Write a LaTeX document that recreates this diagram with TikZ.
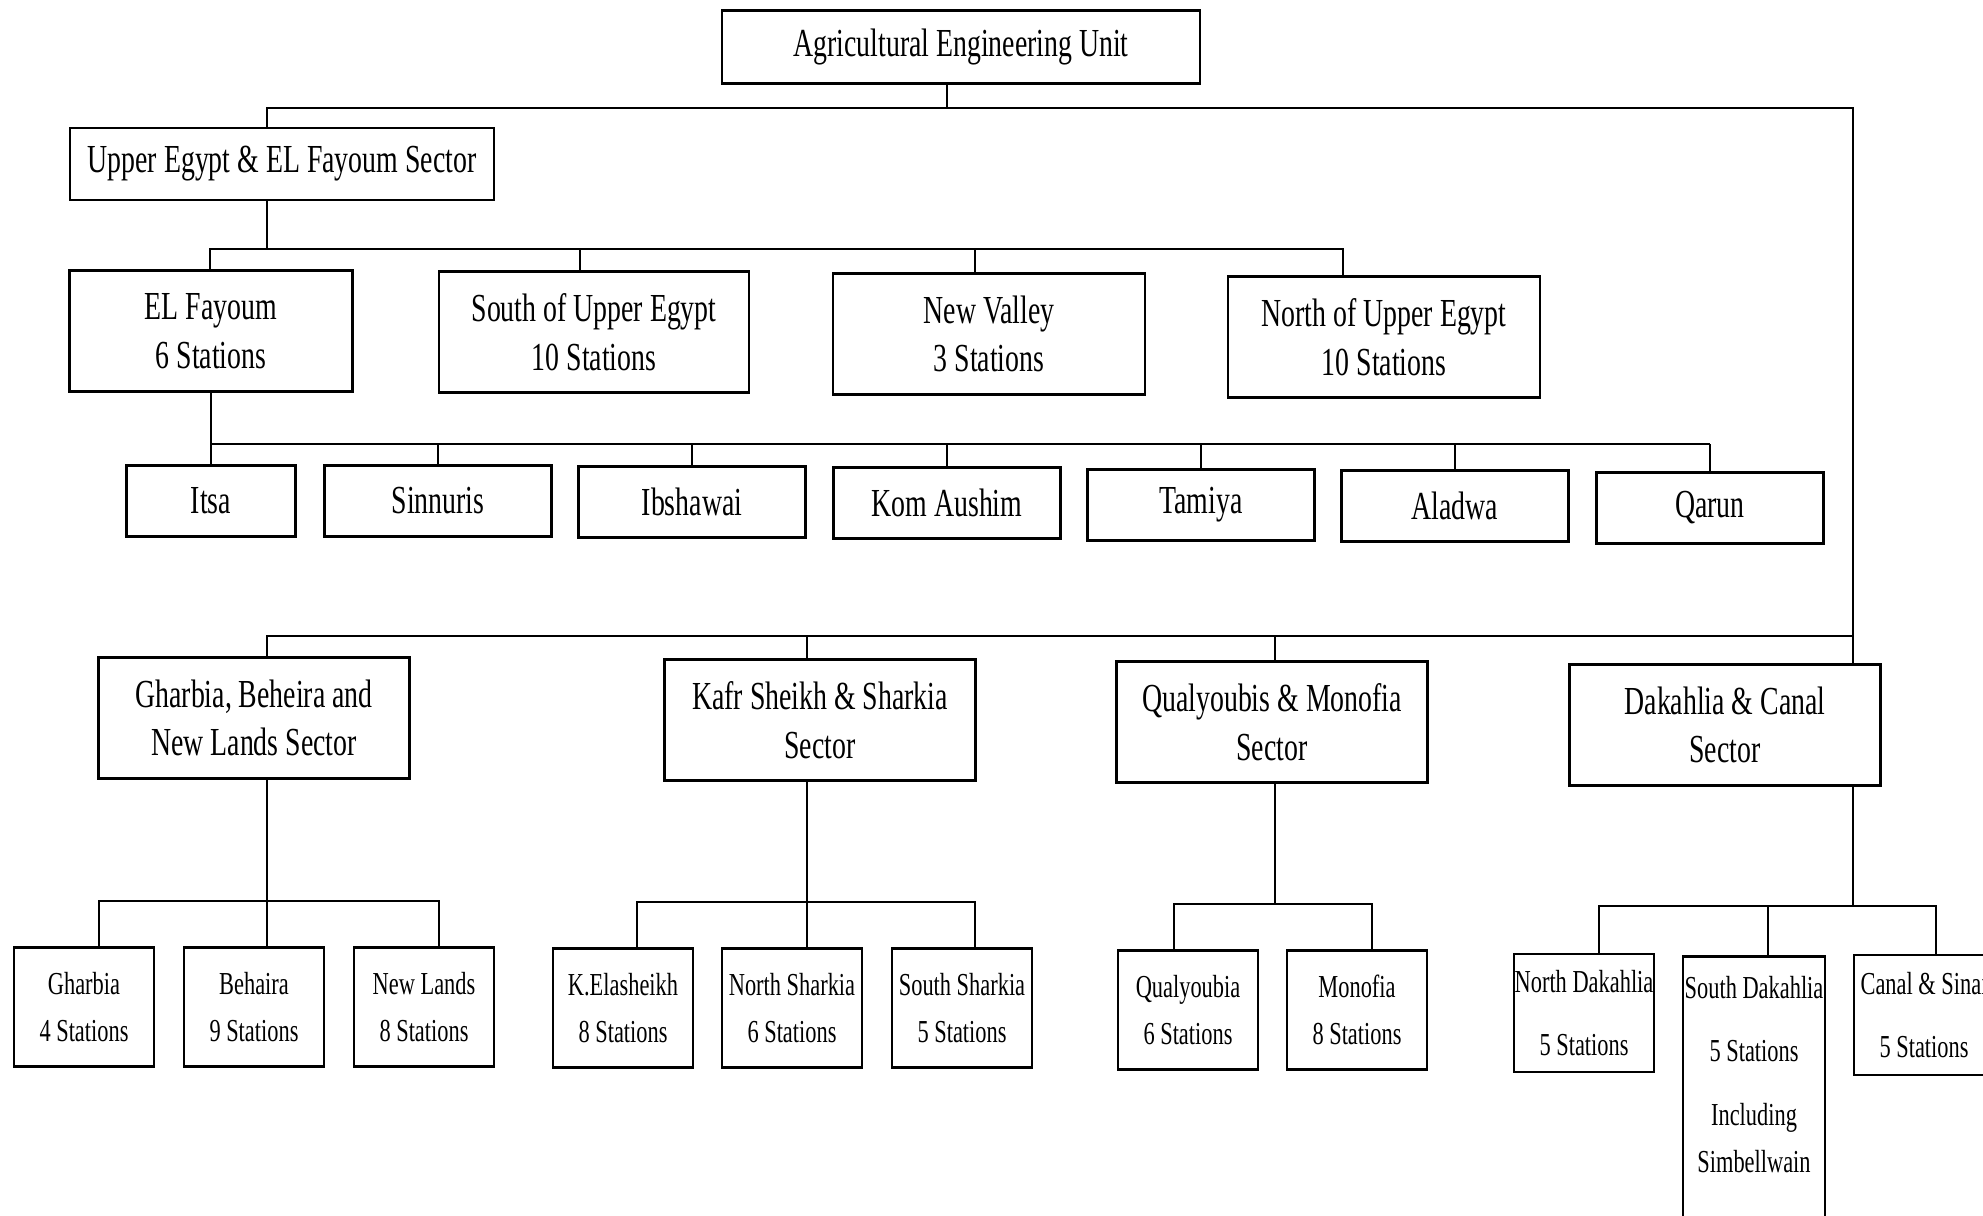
\documentclass[tikz,border=0pt]{standalone}
\usepackage{fontspec}
\setmainfont[FakeStretch=0.7]{Liberation Serif}
\begin{document}
\begin{tikzpicture}[x=0.01cm,y=-0.01cm,line width=0.75pt,
    unit/.style={draw,align=center,inner sep=0pt,font=\fontsize{11.3}{13.8}\selectfont},
    station/.style={unit,minimum height=0.71cm,minimum width=2.27cm},
    sector/.style={unit,minimum width=3.11cm,minimum height=1.21cm},
    leaf/.style={draw,align=center,inner sep=0pt,minimum width=1.4cm,minimum height=1.19cm,font=\fontsize{9.1}{13.4}\selectfont},
    dleaf/.style={leaf,font=\fontsize{9.1}{18}\selectfont}]
    \useasboundingbox (0,0) rectangle (1983,1216);
    \clip (0,0) rectangle (1983,1216);

    % head and first sector
    \node[unit,minimum width=4.78cm,minimum height=0.73cm] (aeu) at (961,47) {Agricultural Engineering Unit};
    \node[unit,minimum width=4.24cm,minimum height=0.72cm] (upper) at (282,164) {Upper Egypt \& EL Fayoum Sector};

    \node[sector,minimum width=2.83cm] (fayoum) at (211,331) {EL Fayoum\\6 Stations};
    \node[sector,minimum width=3.1cm] (soue) at (594,332) {South of Upper Egypt\\10 Stations};
    \node[sector,minimum width=3.12cm] (newv) at (989,334) {New Valley\\3 Stations};
    \node[sector,minimum width=3.12cm] (noue) at (1384,337) {North of Upper Egypt\\10 Stations};

    \node[station,minimum width=1.69cm] (itsa) at (211,501) {Itsa};
    \node[station] (sinn) at (438,501) {Sinnuris};
    \node[station] (ibsh) at (692,502) {Ibshawai};
    \node[station] (koma) at (947,503) {Kom Aushim};
    \node[station] (tami) at (1201,505) {Tamiya};
    \node[station] (alad) at (1455,506) {Aladwa};
    \node[station] (qaru) at (1710,508) {Qarun};

    % delta sectors
    \node[sector] (gbn) at (254,718) {Gharbia, Beheira and\\New Lands Sector};
    \node[sector] (kafr) at (820,720) {Kafr Sheikh \& Sharkia\\Sector};
    \node[sector] (qual) at (1272,722) {Qualyoubis \& Monofia\\Sector};
    \node[sector] (dak) at (1725,725) {Dakahlia \& Canal\\Sector};

    \node[leaf] (ghar) at (84,1007) {Gharbia\\4 Stations};
    \node[leaf] (beha) at (254,1007) {Behaira\\9 Stations};
    \node[leaf] (nwl) at (424,1007) {New Lands\\8 Stations};
    \node[leaf] (kela) at (623,1008) {K.Elasheikh\\8 Stations};
    \node[leaf] (nsha) at (792,1008) {North Sharkia\\6 Stations};
    \node[leaf] (ssha) at (962,1008) {South Sharkia\\5 Stations};
    \node[leaf] (qyb) at (1188,1010) {Qualyoubia\\6 Stations};
    \node[leaf] (mono) at (1357,1010) {Monofia\\8 Stations};
    \node[dleaf,minimum height=1.18cm] (ndak) at (1584,1013) {North Dakahlia\\5 Stations};
    \node[draw,minimum width=1.42cm,minimum height=3cm,anchor=north] (sdak) at (1754,955) {};
    \node[align=center,inner sep=0pt,anchor=north,font=\fontsize{9.1}{18}\selectfont] (sdaktext) at (1754,975) {South Dakahlia\\5 Stations\\Including\\[-4.5pt]Simbellwain};
    \node[dleaf,minimum height=1.2cm] (canal) at (1924,1015) {Canal \& Sinai\\5 Stations};

    % connectors
    \coordinate (t0) at (947,108);
    \coordinate (t1) at (267,108);
    \coordinate (t2) at (1853,108);
    \draw (t0 |- aeu.south) -- (t0);
    \draw (t1 |- upper.north) -- (t1) -- (t2) -- (t2 |- dak.north);

    \coordinate (u0) at (267,249);
    \coordinate (u1) at (210,249);
    \coordinate (u2) at (580,249);
    \coordinate (u3) at (975,249);
    \coordinate (u4) at (1343,249);
    \draw (u0 |- upper.south) -- (u0);
    \draw (u1 |- fayoum.north) -- (u1) -- (u4) -- (u4 |- noue.north);
    \draw (u2) -- (u2 |- soue.north);
    \draw (u3) -- (u3 |- newv.north);

    \coordinate (fb) at (0,444);
    \draw (fayoum.south) -- (fayoum.south |- fb);
    \draw (itsa.north |- fb) -- (qaru.north |- fb);
    \foreach \n in {itsa,sinn,ibsh,koma,tami,alad,qaru}
        \draw (\n.north) -- (\n.north |- fb);

    \coordinate (s1) at (267,636);
    \coordinate (s2) at (807,636);
    \coordinate (s3) at (1275,636);
    \coordinate (s4) at (1853,636);
    \draw (s1 |- gbn.north) -- (s1) -- (s4);
    \draw (s2) -- (s2 |- kafr.north);
    \draw (s3) -- (s3 |- qual.north);

    % gharbia group
    \coordinate (g1) at (99,901);
    \coordinate (g2) at (267,901);
    \coordinate (g3) at (439,901);
    \draw (g2 |- gbn.south) -- (g2);
    \draw (g1 |- ghar.north) -- (g1) -- (g3) -- (g3 |- nwl.north);
    \draw (g2) -- (g2 |- beha.north);

    % kafr group
    \coordinate (k1) at (637,902);
    \coordinate (k2) at (807,902);
    \coordinate (k3) at (975,902);
    \draw (k2 |- kafr.south) -- (k2);
    \draw (k1 |- kela.north) -- (k1) -- (k3) -- (k3 |- ssha.north);
    \draw (k2) -- (k2 |- nsha.north);

    % qualyoubia group
    \coordinate (q1) at (1174,904);
    \coordinate (q0) at (1275,904);
    \coordinate (q2) at (1372,904);
    \draw (q0 |- qual.south) -- (q0);
    \draw (q1 |- qyb.north) -- (q1) -- (q2) -- (q2 |- mono.north);

    % dakahlia group
    \coordinate (d1) at (1599,906);
    \coordinate (d2) at (1768,906);
    \coordinate (d0) at (1853,906);
    \coordinate (d3) at (1936,906);
    \draw (d0 |- dak.south) -- (d0);
    \draw (d1 |- ndak.north) -- (d1) -- (d3) -- (d3 |- canal.north);
    \draw (d2) -- (d2 |- sdak.north);
\end{tikzpicture}
\end{document}
